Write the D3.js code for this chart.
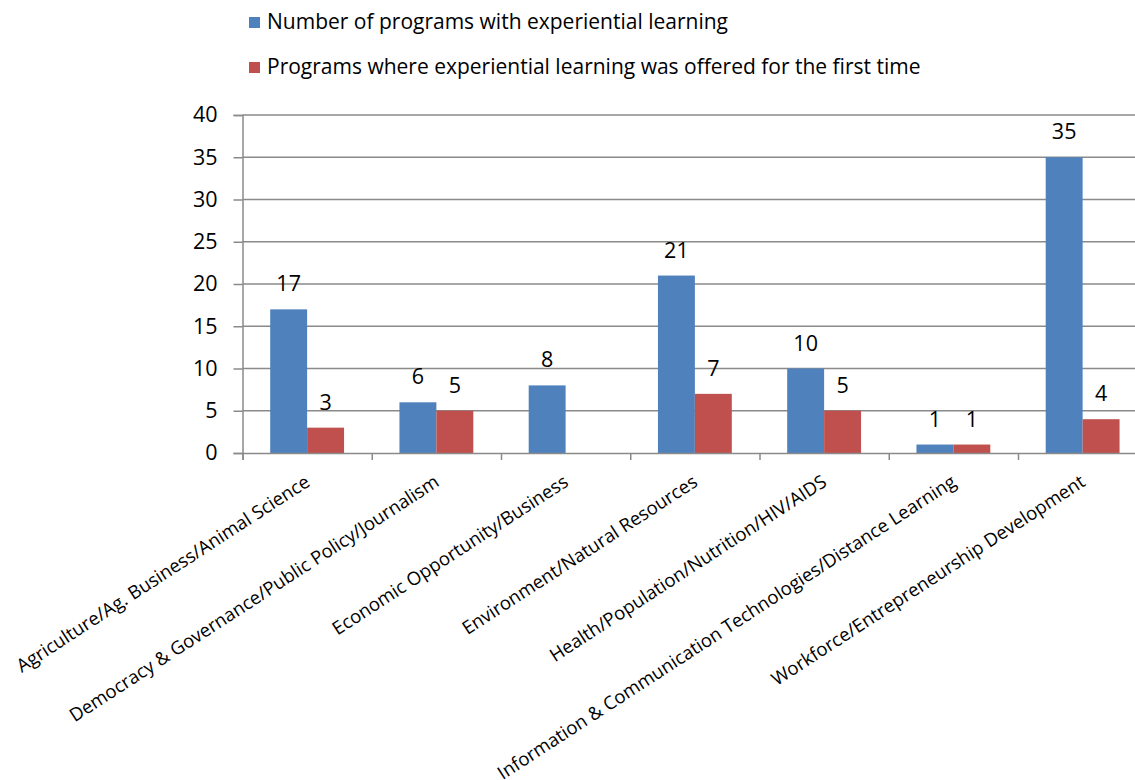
<!DOCTYPE html>
<html>
<head>
<meta charset="utf-8">
<script src="https://cdn.jsdelivr.net/npm/d3@7"></script>
<style>
  html, body { margin: 0; padding: 0; background: #fff; }
  svg { display: block; }
  text { font-family: "Open Sans", Lato, sans-serif; fill: #000; }
</style>
</head>
<body>
<svg id="chart" width="1135" height="780"></svg>
<script>
// Program areas and counts
const categories = [
  "Agriculture/Ag. Business/Animal Science",
  "Democracy & Governance/Public Policy/Journalism",
  "Economic Opportunity/Business",
  "Environment/Natural Resources",
  "Health/Population/Nutrition/HIV/AIDS",
  "Information & Communication Technologies/Distance Learning",
  "Workforce/Entrepreneurship Development"
];
const seriesNames = [
  "Number of programs with experiential learning",
  "Programs where experiential learning was offered for the first time"
];
const withExperiential = [17, 6, 8, 21, 10, 1, 35];
const firstTime = [3, 5, null, 7, 5, 1, 4];
const yTicks = [0, 5, 10, 15, 20, 25, 30, 35, 40];
const colors = ["#4F81BD", "#C0504D"];

const svg = d3.select("#chart");
const plotLeft = 242.5, plotTop = 115, plotBottom = 453;
const band = 129.25;
const plotRight = plotLeft + band * categories.length;

const x = d3.scaleBand().domain(categories).range([plotLeft, plotRight]).paddingInner(0).paddingOuter(0);
const xs = d3.scaleBand().domain(seriesNames).range([0, x.bandwidth()]).paddingInner(0).paddingOuter(0.75);
const y = d3.scaleLinear().domain([0, 40]).range([plotBottom, plotTop]);
const axisColor = "#8a8a8a";

// Horizontal gridlines
svg.append("g")
  .selectAll("line")
  .data(yTicks.filter(d => d > 0))
  .join("line")
  .attr("x1", plotLeft).attr("x2", 1135)
  .attr("y1", d => y(d)).attr("y2", d => y(d))
  .attr("stroke", axisColor).attr("stroke-width", 1.5);

// Y axis
const yAxis = svg.append("g")
  .attr("transform", `translate(${plotLeft},0)`)
  .call(d3.axisLeft(y).tickValues(yTicks).tickSize(9).tickPadding(16).tickFormat(d3.format("d")));
yAxis.select(".domain").attr("stroke", axisColor).attr("stroke-width", 1.5);
yAxis.selectAll(".tick line").attr("stroke", axisColor).attr("stroke-width", 1.5);
yAxis.selectAll(".tick text").attr("font-size", 21.5).attr("font-family", "'Open Sans', sans-serif").attr("fill", "#000");

// Bars
const rows = categories.map((c, i) => ({ c, vals: [withExperiential[i], firstTime[i]] }));
const groups = svg.append("g").selectAll("g")
  .data(rows)
  .join("g")
  .attr("transform", d => `translate(${x(d.c)},0)`);

groups.selectAll("rect")
  .data(d => d.vals.map((v, k) => ({ v, k })).filter(e => e.v != null))
  .join("rect")
  .attr("x", e => xs(seriesNames[e.k]))
  .attr("width", xs.bandwidth())
  .attr("y", e => y(e.v))
  .attr("height", e => y(0) - y(e.v))
  .attr("fill", e => colors[e.k]);

// Value labels
groups.selectAll("text")
  .data(d => d.vals.map((v, k) => ({ v, k })).filter(e => e.v != null))
  .join("text")
  .attr("x", e => xs(seriesNames[e.k]) + xs.bandwidth() / 2)
  .attr("y", e => y(e.v) - 18)
  .attr("text-anchor", "middle")
  .attr("font-size", 21.5)
  .text(e => e.v);

// X axis with category boundary ticks
const xb = d3.scaleLinear().domain([0, categories.length]).range([plotLeft, plotRight]);
const xAxis = svg.append("g")
  .attr("transform", `translate(0,${plotBottom})`)
  .call(d3.axisBottom(xb).tickValues(d3.range(0, categories.length + 1)).tickSize(7).tickFormat(""));
xAxis.select(".domain").attr("stroke", axisColor).attr("stroke-width", 1.5);
xAxis.selectAll(".tick line").attr("stroke", axisColor).attr("stroke-width", 1.5);

// Rotated category labels
svg.append("g")
  .selectAll("text")
  .data(categories)
  .join("text")
  .attr("transform", d => `translate(${x(d) + x.bandwidth() / 2 + 4},485) rotate(-33)`)
  .attr("text-anchor", "end")
  .attr("font-size", 18.5)
  .text(d => d);

// Legend
const legend = svg.append("g").selectAll("g")
  .data(seriesNames)
  .join("g")
  .attr("transform", (d, i) => `translate(249,${17 + i * 45})`);
legend.append("rect").attr("width", 11).attr("height", 11).attr("fill", (d, i) => colors[i]);
legend.append("text").attr("x", 18).attr("y", 12).attr("font-size", 21).text(d => d);
</script>
</body>
</html>
